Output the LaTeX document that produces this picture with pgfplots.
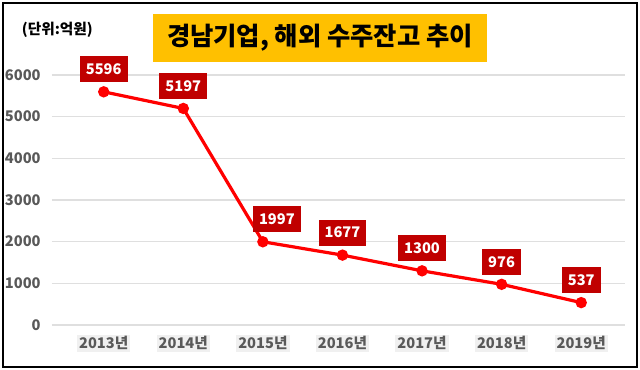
\documentclass[border=0pt]{standalone}
\usepackage{pgfplots}
\pgfplotsset{compat=1.18}
\usepackage{fontspec}
\setmainfont{Noto Sans CJK KR}
\definecolor{lred}{HTML}{FF0000}
\definecolor{boxred}{HTML}{C00000}
\definecolor{titley}{HTML}{FFC000}
\definecolor{tickgray}{HTML}{595959}
\begin{document}
\begin{tikzpicture}
\useasboundingbox (0,0) rectangle (480pt,277.5pt);
\draw[black, line width=1.5pt] (2.25pt,2.25pt) rectangle (477.75pt,275.25pt);
\begin{axis}[
  at={(39pt,33.75pt)}, anchor=south west,
  scale only axis, width=429.75pt, height=187.5pt,
  xmin=-0.65, xmax=6.55, ymin=0, ymax=6000,
  axis line style={draw=none},
  major tick length=0pt,
  ymajorgrids, grid style={gray!25, line width=0.8pt},
  ytick={0,1000,...,6000},
  xtick={0,...,6},
  xticklabels={2013년,2014년,2015년,2016년,2017년,2018년,2019년},
  scaled y ticks=false,
  /pgf/number format/1000 sep={},
  /pgf/number format/assume math mode=true,
  tick label style={font=\fontsize{11}{13}\selectfont\bfseries, text=tickgray},
  yticklabel style={xshift=-5pt},
  xticklabel style={fill=gray!12, inner sep=1.5pt, yshift=-7pt},
  clip=false,
  nodes near coords,
  point meta=explicit,
  visualization depends on={value \coordindex \as \myidx},
  every node near coord/.append style={fill=boxred, text=white,
    font=\fontsize{11}{13}\selectfont\bfseries, anchor=south,
    inner xsep=4.5pt, inner ysep=0pt, minimum height=19.5pt,
    yshift=6pt, xshift={(\myidx==2)*10.5},
    /pgf/number format/1000 sep={}},
]
\addplot[lred, line width=2.4pt, mark=*, mark size=3pt, mark options={fill=lred, draw=lred}]
  table[meta=y] {
x y
0 5596
1 5197
2 1997
3 1677
4 1300
5 976
6 537
};
\end{axis}
\node[fill=titley, minimum width=250.5pt, minimum height=36pt, inner sep=0pt,
  font=\fontsize{19}{21}\selectfont\bfseries, text=black] at (240pt,249pt) {경남기업, 해외 수주잔고 추이};
\node[font=\fontsize{11}{13}\selectfont\bfseries, text=black] at (43pt,255pt) {(단위:억원)};
\end{tikzpicture}
\end{document}
